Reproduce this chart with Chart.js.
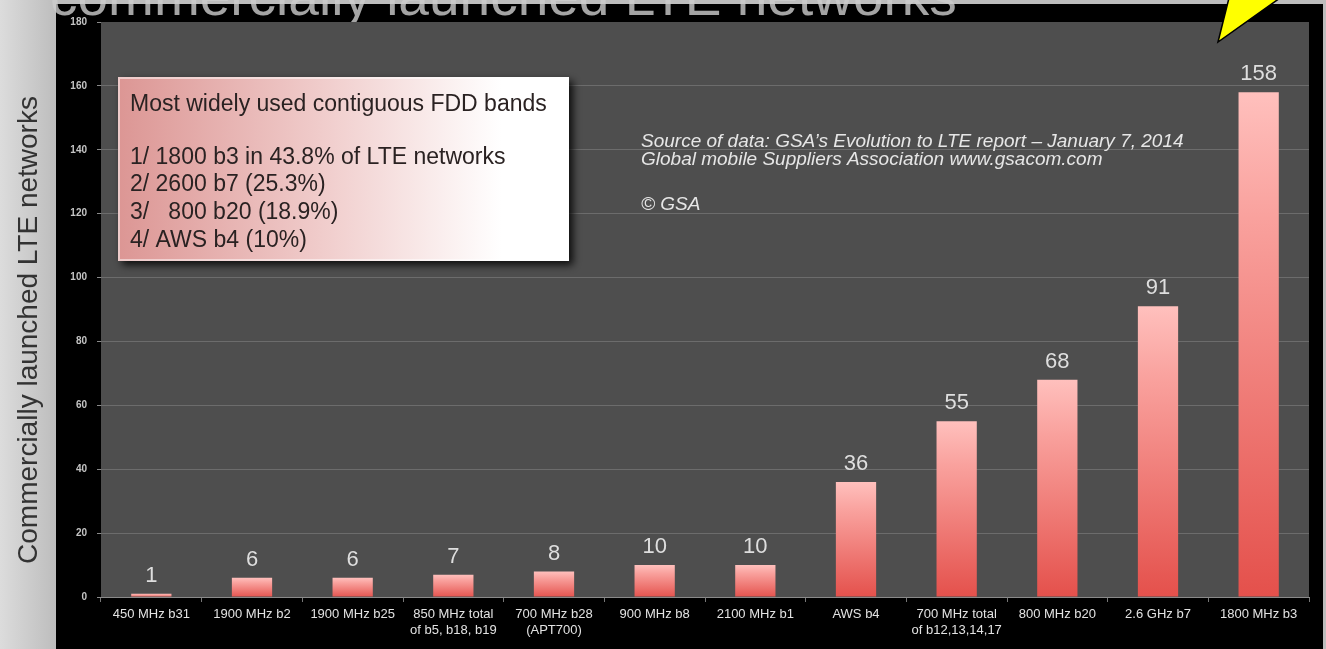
<!DOCTYPE html>
<html>
<head>
<meta charset="utf-8">
<script src="https://cdn.jsdelivr.net/npm/chart.js"></script>
<style>
  html, body { margin: 0; padding: 0; background: #000; overflow: hidden; }
  canvas { display: block; }
</style>
</head>
<body>
<canvas id="bandsChart" width="1326" height="649"></canvas>
<script>
const bands = [
  '450 MHz b31', '1900 MHz b2', '1900 MHz b25', ['850 MHz total', 'of b5, b18, b19'],
  ['700 MHz b28', '(APT700)'], '900 MHz b8', '2100 MHz b1', 'AWS b4',
  ['700 MHz total', 'of b12,13,14,17'], '800 MHz b20', '2.6 GHz b7', '1800 MHz b3'
];
const networks = [1, 6, 6, 7, 8, 10, 10, 36, 55, 68, 91, 158];
const yMax = 180;
const yStep = 20;

const pageTitle = 'commercially launched LTE networks';
const axisTitle = 'Commercially launched LTE networks';
const boxLines = [
  'Most widely used contiguous FDD bands',
  '',
  '1/ 1800 b3 in 43.8% of LTE networks',
  '2/ 2600 b7 (25.3%)',
  '3/   800 b20 (18.9%)',
  '4/ AWS b4 (10%)'
];
const sourceLines = [
  'Source of data: GSA\u2019s Evolution to LTE report \u2013 January 7, 2014',
  'Global mobile Suppliers Association www.gsacom.com',
  '',
  '\u00a9 GSA'
];

const FONT = '"Liberation Sans", Arial, sans-serif';

// slide background, black frame, plot fill
const backdrop = {
  id: 'backdrop',
  beforeDraw(chart) {
    const { ctx, chartArea } = chart;
    ctx.save();
    const side = ctx.createLinearGradient(0, 0, 56, 0);
    side.addColorStop(0, '#dcdcdc');
    side.addColorStop(1, '#bdbdbd');
    ctx.fillStyle = side;
    ctx.fillRect(0, 0, 1326, 649);
    ctx.fillStyle = '#000';
    ctx.fillRect(56, 4, 1267, 645);

    ctx.fillStyle = 'rgba(205,205,205,0.8)';
    ctx.font = '55px ' + FONT;
    ctx.textBaseline = 'alphabetic';
    ctx.fillText(pageTitle, 50, 15);

    ctx.fillStyle = '#4e4e4e';
    ctx.fillRect(chartArea.left, chartArea.top, chartArea.right - chartArea.left, chartArea.bottom - chartArea.top);
    ctx.restore();
  }
};

// numbers over bars, text box, source note, arrow, axis title
const overlay = {
  id: 'overlay',
  afterDraw(chart) {
    const { ctx } = chart;
    ctx.save();

    const meta = chart.getDatasetMeta(0);
    ctx.fillStyle = '#dedede';
    ctx.font = '22px ' + FONT;
    ctx.textAlign = 'center';
    ctx.textBaseline = 'bottom';
    meta.data.forEach((bar, i) => {
      ctx.fillText(networks[i], bar.x, bar.y - 7);
    });

    // text box
    const bx = 118, by = 77, bw = 451, bh = 184;
    ctx.save();
    ctx.shadowColor = 'rgba(0,0,0,0.85)';
    ctx.shadowBlur = 8;
    ctx.shadowOffsetX = 4;
    ctx.shadowOffsetY = 4;
    const boxFill = ctx.createLinearGradient(bx, 0, bx + bw, 0);
    boxFill.addColorStop(0, '#dc9694');
    boxFill.addColorStop(0.45, '#f0cccb');
    boxFill.addColorStop(0.85, '#ffffff');
    boxFill.addColorStop(1, '#ffffff');
    ctx.fillStyle = boxFill;
    ctx.fillRect(bx, by, bw, bh);
    ctx.restore();
    ctx.strokeStyle = 'rgba(255,255,255,0.5)';
    ctx.lineWidth = 2;
    ctx.strokeRect(bx + 1, by + 1, bw - 2, bh - 2);

    ctx.fillStyle = '#2a2222';
    ctx.font = '23px ' + FONT;
    ctx.textAlign = 'left';
    ctx.textBaseline = 'alphabetic';
    const boxY = [111, 137, 164, 191, 219, 247];
    boxLines.forEach((t, i) => ctx.fillText(t, 130, boxY[i]));

    // source note
    ctx.fillStyle = '#e6e6e6';
    ctx.font = 'italic 19px ' + FONT;
    const srcY = [147, 165, 187, 210];
    sourceLines.forEach((t, i) => ctx.fillText(t, 641, srcY[i]));

    // arrow
    ctx.beginPath();
    ctx.moveTo(1218, 42);
    ctx.lineTo(1229, -2);
    ctx.lineTo(1280, -2);
    ctx.closePath();
    ctx.fillStyle = '#ffff00';
    ctx.fill();
    ctx.strokeStyle = '#000';
    ctx.lineWidth = 1.5;
    ctx.stroke();

    // y axis title
    ctx.translate(29, 330);
    ctx.rotate(-Math.PI / 2);
    ctx.fillStyle = '#333';
    ctx.font = '28px ' + FONT;
    ctx.textAlign = 'center';
    ctx.textBaseline = 'middle';
    ctx.fillText(axisTitle, 0, 0);
    ctx.restore();
  }
};

function barFill(context) {
  const chart = context.chart;
  const { ctx, chartArea, scales } = chart;
  if (context.type !== 'data' || !chartArea) return '#e65a55';
  const top = scales.y.getPixelForValue(context.raw);
  const bottom = scales.y.getPixelForValue(0);
  const g = ctx.createLinearGradient(0, top, 0, bottom + 1);
  g.addColorStop(0, '#ffc0bd');
  g.addColorStop(0.25, '#f9a19d');
  g.addColorStop(1, '#e4504b');
  return g;
}

const ctx = document.getElementById('bandsChart').getContext('2d');
const bandsChart = new Chart(ctx, {
  type: 'bar',
  data: {
    labels: bands,
    datasets: [{
      label: 'Commercially launched LTE networks',
      data: networks,
      backgroundColor: barFill,
      borderWidth: 0,
      barPercentage: 0.8,
      categoryPercentage: 0.5
    }]
  },
  options: {
    responsive: false,
    animation: false,
    layout: {
      padding: { left: 56, top: 22, right: 17, bottom: 0 }
    },
    plugins: {
      legend: { display: false },
      tooltip: { enabled: false }
    },
    scales: {
      x: {
        afterFit(scale) { scale.height = 52; },
        grid: {
          drawOnChartArea: false,
          color: '#777',
          tickLength: 5
        },
        border: { color: '#8a8a8a' },
        ticks: {
          color: '#e2e2e2',
          font: { family: FONT, size: 13 },
          padding: 5,
          autoSkip: false,
          maxRotation: 0
        }
      },
      y: {
        min: 0,
        max: yMax,
        afterFit(scale) { scale.width = 45; },
        grid: {
          color: (c) => (c.tick && c.tick.value === yMax ? 'rgba(0,0,0,0)' : '#6c6c6c'),
          tickColor: '#8a8a8a',
          tickLength: 4
        },
        border: { display: false },
        ticks: {
          stepSize: yStep,
          color: '#c4c4c4',
          font: { family: FONT, size: 10, weight: 'bold' },
          padding: 10
        }
      }
    }
  },
  plugins: [backdrop, overlay]
});
</script>
</body>
</html>
